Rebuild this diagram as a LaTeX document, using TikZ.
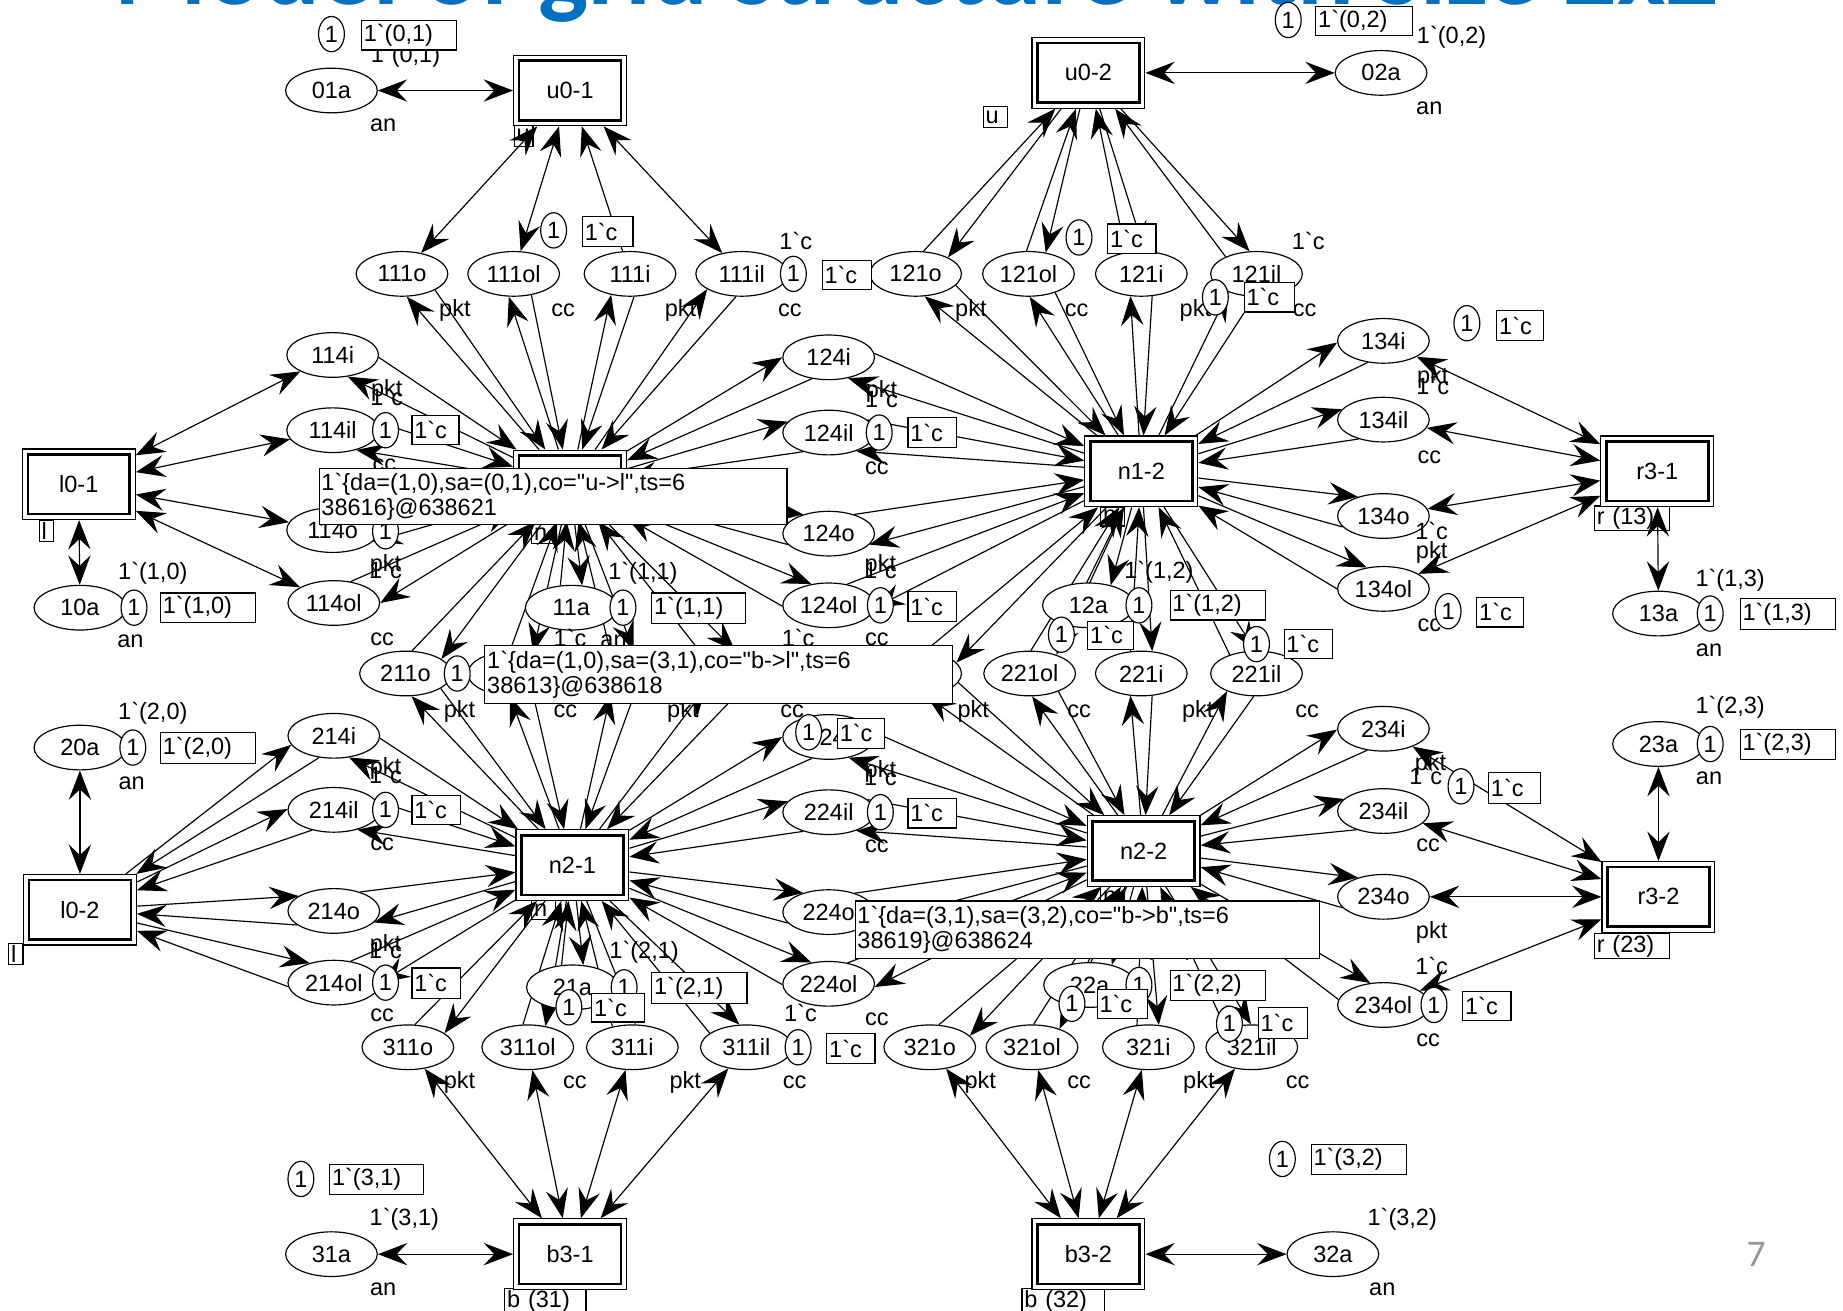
\documentclass[tikz,border=0pt]{standalone}
\usepackage{fontspec}
\newfontfamily\lsans{Liberation Sans}
\newfontfamily\carl{Carlito}
\usetikzlibrary{shapes.geometric,arrows.meta,backgrounds}
\definecolor{titleblue}{RGB}{0,112,192}
\definecolor{pggray}{RGB}{150,150,150}
\tikzset{
  place/.style={ellipse, draw, fill=white, line width=0.5pt, minimum width=39pt, minimum height=19pt, inner sep=0pt},
  tok/.style={ellipse, draw, fill=white, line width=0.5pt, minimum width=11pt, minimum height=15pt, inner sep=0pt},
  tbox/.style={draw, fill=white, line width=0.5pt, inner xsep=1pt, inner ysep=0.5pt, anchor=north west, align=left},
  trans/.style={draw, fill=white, line width=0.5pt, minimum width=48pt, minimum height=30pt, inner sep=0pt},
  lab/.style={inner sep=0pt},
  tipa/.tip={Stealth[length=12.5pt,width=9.5pt,inset=4.5pt]},
  arc/.style={line width=0.5pt, -tipa},
  barc/.style={line width=0.5pt, tipa-tipa},
}
\makeatletter
\newcommand\dualarc[3][26]{%
  \pgfmathanglebetweenpoints{\pgfpointanchor{#2}{center}}{\pgfpointanchor{#3}{center}}%
  \let\da@base\pgfmathresult
  \pgfmathtruncatemacro\da@a{mod(\da@base+#1+360,360)}%
  \pgfmathtruncatemacro\da@b{mod(\da@base-#1+360,360)}%
  \edef\da@cmd{\noexpand\draw[arc] (#2.\da@a) -- (#3); \noexpand\draw[arc] (#3) -- (#2.\da@b);}%
  \da@cmd
}
\makeatother
\newcommand\tbx[6]{%
  \pgfmathsetmacro\bxw{(#4-#2)*0.5-2}%
  \pgfmathsetmacro\bxh{(#5-#3)*0.5}%
  \node[tbox, text width=\bxw pt, minimum height=\bxh pt] (#1) at (#2,#3) {#6};}
\newcommand\trn[4]{%
  \node[trans] (#1) at (#2,#3) {#4};
  \draw[line width=1.1pt] ([shift={(2.6pt,-2.6pt)}]#1.north west) rectangle ([shift={(-2.6pt,2.6pt)}]#1.south east);}
\newcommand\tk[3]{\node[tok] (#1) at (#2,#3) {1};}
\begin{document}
\begin{tikzpicture}[x=0.5pt,y=-0.5pt,font=\lsans\fontsize{10}{10.5}\selectfont]
\useasboundingbox (0,0) rectangle (1568,1115);
% title (cut off at the top)
\node[anchor=base west, inner sep=0pt, text=titleblue, font=\carl\bfseries\fontsize{45}{45}\selectfont] (title) at (97,4) {Model of grid structure with size 2x2};
\node[font=\carl\fontsize{16}{16}\selectfont, text=pggray] (pagenum) at (1494,1067) {7};

% places
\foreach \n/\x/\y in {01a/282/77, 02a/1175/62,
  111o/342/233, 111ol/437/233, 111i/536/233, 111il/631/233,
  121o/779/233, 121ol/875/233, 121i/971/233, 121il/1069/233,
  114i/283/302, 114il/283/366, 114o/283/451, 114ol/284/513,
  124i/705/304, 124il/705/368, 124o/705/454, 124ol/705/515,
  134i/1177/290, 134il/1177/357, 134o/1177/439, 134ol/1177/501,
  10a/68/517, 11a/486/517, 12a/926/515, 13a/1411/522,
  211o/345/573, 211ol/437/573, 211i/536/573, 211il/631/573,
  221o/779/573, 221ol/876/573, 221i/971/573, 221il/1069/573,
  20a/68/636, 23a/1411/633,
  214i/284/626, 214il/284/689, 214o/284/775, 214ol/284/836,
  224i/705/627, 224il/705/691, 224o/705/776, 224ol/705/837,
  234i/1177/620, 234il/1177/690, 234o/1177/763, 234ol/1177/855,
  21a/487/840, 22a/927/838,
  311o/347/891, 311ol/449/891, 311i/538/891, 311il/635/891,
  321o/791/891, 321ol/878/891, 321i/977/891, 321il/1065/891,
  31a/282/1067, 32a/1134/1067}
  {\node[place] (\n) at (\x,\y) {\n};}

% transitions
\trn{u01}{485}{77}{u0-1}
\trn{u02}{926}{62}{u0-2}
\trn{l01}{67}{412}{l0-1}
\trn{l02}{68}{774}{l0-2}
\trn{n11}{485}{413}{n1-1}
\trn{n12}{971}{401}{n1-2}
\trn{n21}{487}{736}{n2-1}
\trn{n22}{973}{724}{n2-2}
\trn{r31}{1410}{401}{r3-1}
\trn{r32}{1411}{763}{r3-2}
\trn{b31}{485}{1067}{b3-1}
\trn{b32}{926}{1067}{b3-2}

\begin{pgfonlayer}{background}
% transition labels (arcs pass over them)
\tbx{lu1}{437}{106}{453}{124}{u}
\tbx{lu2}{836}{90}{857}{108}{u}
\tbx{ll1}{33}{442}{45}{460}{l}
\tbx{ll2}{7}{802}{19}{820}{l}
\tbx{ln11}{452}{446}{471}{462}{n}
\tbx{ln12}{936}{431}{956}{447}{n}
\tbx{ln21}{452}{765}{472}{782}{n}
\tbx{ln22}{936}{754}{956}{772}{n}
\tbx{lr31}{1356}{430}{1420}{448}{r (13)}
\tbx{lr32}{1356}{794}{1420}{811}{r (23)}
\tbx{lb31}{429}{1096}{498}{1112}{b (31)}
\tbx{lb32}{869}{1096}{939}{1112}{b (32)}
% arcs
\foreach \p in {111o,111ol,111il} {\draw[barc] (\p) -- (u01);}
\draw[arc] (111i) -- (u01);
\foreach \p in {121o,121ol,121i,121il} {\dualarc[22]{\p}{u02}}
\foreach \p in {114i,114il,114o,114ol} {\draw[barc] (\p) -- (l01);}
\foreach \p in {214i,214il,214o,214ol} {\dualarc[22]{\p}{l02}}
\foreach \p in {134i,134il,134o,134ol} {\draw[barc] (\p) -- (r31);}
\foreach \p in {234i,234il,234o,234ol} {\draw[barc] (\p) -- (r32);}
\foreach \p in {311o,311ol,311i,311il} {\draw[barc] (\p) -- (b31);}
\foreach \p in {321o,321ol,321i,321il} {\draw[barc] (\p) -- (b32);}
\draw[barc] (01a) -- (u01);
\draw[barc] (02a) -- (u02);
\draw[barc] (10a) -- (l01);
\draw[barc] (20a) -- (l02);
\draw[barc] (13a) -- (r31);
\draw[barc] (23a) -- (r32);
\draw[barc] (31a) -- (b31);
\draw[barc] (32a) -- (b32);
\foreach \p in {111o,111ol,111i,111il,114i,114il,114o,114ol,124i,124il,124o,124ol,211o,211ol,211i,211il,11a} {\dualarc{\p}{n11}}
\foreach \p in {121o,121ol,121i,121il,124i,124il,124o,124ol,134i,134il,134o,134ol,221o,221ol,221i,221il,12a} {\dualarc{\p}{n12}}
\foreach \p in {211o,211ol,211i,211il,214i,214il,214o,214ol,224i,224il,224o,224ol,311o,311ol,311i,311il,21a} {\dualarc{\p}{n21}}
\foreach \p in {221o,221ol,221i,221il,224i,224il,224o,224ol,234i,234il,234o,234ol,321o,321ol,321i,321il,22a} {\dualarc{\p}{n22}}
\end{pgfonlayer}

% arc inscriptions
\foreach \x/\y/\tx [count=\i] in {345/48/{1`(0,1)}, 1235/32/{1`(0,2)}, 677/205/1`c, 1113/205/1`c,
  130/488/{1`(1,0)}, 547/488/{1`(1,1)}, 986/487/{1`(1,2)}, 1472/494/{1`(1,3)},
  130/607/{1`(2,0)}, 1472/602/{1`(2,3)}, 548/810/{1`(2,1)}, 986/808/{1`(2,2)},
  344/1037/{1`(3,1)}, 1193/1037/{1`(3,2)},
  326/107/an, 1216/92/an, 111/546/an, 1454/553/an, 112/666/an, 1454/662/an, 326/1097/an, 1176/1097/an,
  387/264/pkt, 479/264/cc, 579/264/pkt, 672/264/cc, 826/264/pkt, 916/264/cc, 1017/264/pkt, 1110/264/cc,
  329/332/pkt, 329/338/1`c, 750/333/pkt, 750/339/1`c, 1219/321/pkt, 1219/328/1`c,
  327/396/cc, 746/398/cc, 1216/389/cc,
  328/481/pkt, 328/485/1`c, 749/481/pkt, 749/485/1`c,
  1218/452/1`c, 1218/470/pkt, 1216/532/cc,
  325/544/cc, 485/543/1`c, 522/546/an, 679/543/1`c, 746/544/cc,
  391/605/pkt, 481/605/cc, 581/605/pkt, 674/605/cc, 828/605/pkt, 918/605/cc, 1019/605/pkt, 1112/605/cc,
  328/654/pkt, 328/659/1`c, 749/656/pkt, 749/661/1`c, 1217/650/pkt, 1213/660/1`c,
  325/718/cc, 746/720/cc, 1215/719/cc,
  328/804/pkt, 328/808/1`c, 681/862/1`c, 746/867/cc, 1218/793/pkt, 1218/822/1`c, 1215/885/cc, 325/864/cc,
  391/921/pkt, 489/921/cc, 583/921/pkt, 676/921/cc, 834/921/pkt, 918/921/cc, 1020/921/pkt, 1104/921/cc}
  {\node[lab] (ins\i) at (\x,\y) {\tx};}

% tokens
\tk{k01}{282}{29}   \tbx{m01}{307}{17}{388}{42}{1`(0,1)}
\tk{k02}{1096}{17}  \tbx{m02}{1119}{5}{1201}{30}{1`(0,2)}
\tk{k111i}{471}{196} \tbx{m111i}{495}{184}{538}{209}{1`c}
\tk{k111il}{675}{233} \tbx{m111il}{699}{221}{741}{246}{1`c}
\tk{k121i}{918}{202} \tbx{m121i}{942}{190}{983}{215}{1`c}
\tk{k121il}{1034}{253} \tbx{m121il}{1058}{240}{1101}{265}{1`c}
\tk{k134i}{1248}{275} \tbx{m134i}{1273}{264}{1313}{289}{1`c}
\tk{k114il}{328}{366} \tbx{m114il}{350}{353}{390}{378}{1`c}
\tk{k114o}{328}{452}
\tk{k124il}{748}{368} \tbx{m124il}{772}{355}{813}{380}{1`c}
\tk{k10a}{114}{517} \tbx{m10a}{136}{504}{217}{529}{1`(1,0)}
\tk{k11a}{530}{517} \tbx{m11a}{554}{504}{634}{530}{1`(1,1)}
\tk{k124ol}{749}{515} \tbx{m124ol}{772}{503}{813}{528}{1`c}
\tk{k12a}{969}{515} \tbx{m12a}{995}{502}{1076}{527}{1`(1,2)}
\tk{k12b}{903}{540} \tbx{m12b}{925}{528}{964}{552}{1`c}
\tk{k221il}{1069}{548} \tbx{m221il}{1092}{535}{1133}{560}{1`c}
\tk{k134ol}{1232}{520} \tbx{m134ol}{1256}{508}{1296}{533}{1`c}
\tk{k13a}{1455}{522} \tbx{m13a}{1480}{509}{1561}{535}{1`(1,3)}
\tk{k211o}{389}{573}
\tk{k20a}{113}{636} \tbx{m20a}{136}{623}{217}{649}{1`(2,0)}
\tk{k224i}{688}{623} \tbx{m224i}{712}{611}{752}{636}{1`c}
\tk{k23a}{1455}{633} \tbx{m23a}{1480}{620}{1561}{646}{1`(2,3)}
\tk{k234i}{1243}{669} \tbx{m234i}{1266}{657}{1310}{683}{1`c}
\tk{k214il}{328}{689} \tbx{m214il}{350}{676}{391}{701}{1`c}
\tk{k224il}{749}{691} \tbx{m224il}{772}{679}{813}{704}{1`c}
\tk{k214ol}{328}{836} \tbx{m214ol}{350}{823}{391}{849}{1`c}
\tk{k21a}{531}{840} \tbx{m21a}{554}{827}{635}{853}{1`(2,1)}
\tk{k21b}{484}{857} \tbx{m21b}{503}{845}{548}{869}{1`c}
\tk{k22a}{969}{838} \tbx{m22a}{995}{825}{1076}{851}{1`(2,2)}
\tk{k22b}{912}{854} \tbx{m22b}{933}{841}{976}{866}{1`c}
\tk{k321il}{1046}{871} \tbx{m321il}{1070}{857}{1112}{883}{1`c}
\tk{k234ol}{1220}{855} \tbx{m234ol}{1244}{843}{1285}{868}{1`c}
\tk{k311il}{679}{891} \tbx{m311il}{703}{879}{744}{904}{1`c}
\tk{k31}{256}{1003} \tbx{m31}{280}{990}{360}{1016}{1`(3,1)}
\tk{k32}{1091}{986} \tbx{m32}{1115}{973}{1196}{999}{1`(3,2)}

% tooltips
\tbx{tip1}{271}{398}{669}{446}{1`\{da=(1,0),sa=(0,1),co="u->l",ts=6\\38616\}@638621}
\tbx{tip2}{412}{549}{810}{598}{1`\{da=(1,0),sa=(3,1),co="b->l",ts=6\\38613\}@638618}
\tbx{tip3}{727}{766}{1122}{815}{1`\{da=(3,1),sa=(3,2),co="b->b",ts=6\\38619\}@638624}
\end{tikzpicture}
\end{document}
